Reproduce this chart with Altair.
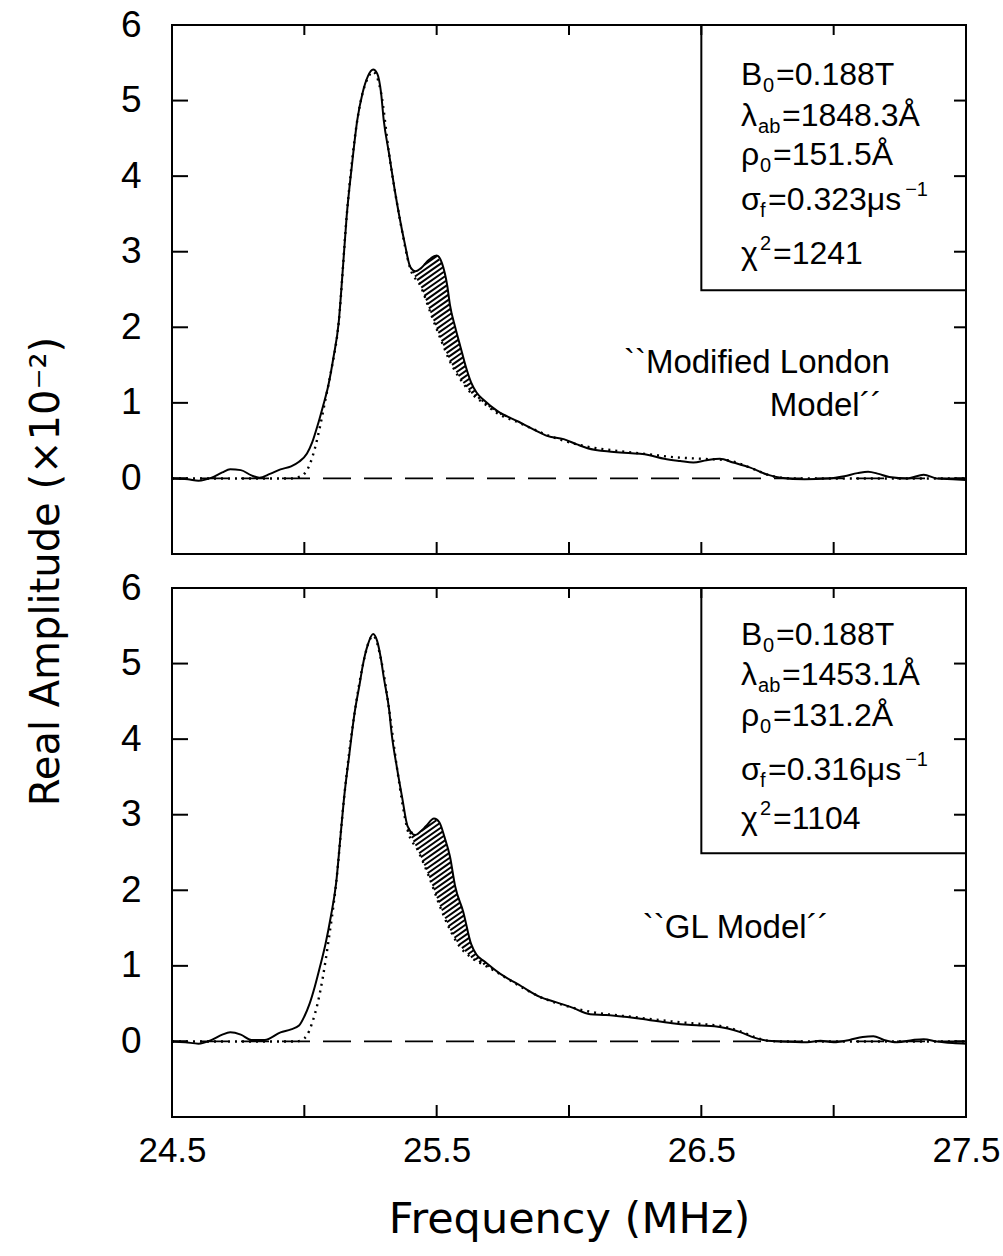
import altair as alt
import numpy as np
import pandas as pd

# ---------------- data ----------------
top_freq = [24.50, 24.56, 24.60, 24.65, 24.69, 24.72, 24.76, 24.80, 24.83, 24.87,
            24.91, 24.95, 24.98, 25.01, 25.03, 25.05, 25.07, 25.09, 25.11, 25.13,
            25.145, 25.16, 25.18, 25.20, 25.22, 25.24, 25.26, 25.275, 25.29, 25.30,
            25.32, 25.34, 25.36, 25.38, 25.40, 25.42, 25.44, 25.47, 25.50, 25.52,
            25.54, 25.55, 25.57, 25.59, 25.61, 25.63, 25.65, 25.68, 25.73, 25.81,
            25.86, 25.92, 25.98, 26.03, 26.07, 26.17, 26.30, 26.36, 26.42, 26.47,
            26.52, 26.57, 26.62, 26.68, 26.75, 26.80, 26.89, 26.98, 27.04, 27.09,
            27.13, 27.17, 27.21, 27.28, 27.34, 27.39, 27.45, 27.50]
top_amp = [0.00, -0.01, -0.03, 0.01, 0.08, 0.12, 0.11, 0.04, 0.01, 0.06,
           0.12, 0.16, 0.22, 0.33, 0.48, 0.70, 0.95, 1.22, 1.60, 2.07,
           2.75, 3.47, 4.15, 4.74, 5.10, 5.32, 5.41, 5.36, 5.10, 4.74,
           4.30, 3.85, 3.45, 3.10, 2.80, 2.74, 2.78, 2.89, 2.95, 2.85,
           2.55, 2.30, 2.00, 1.74, 1.48, 1.27, 1.14, 1.03, 0.89, 0.75,
           0.66, 0.56, 0.52, 0.45, 0.40, 0.35, 0.31, 0.26, 0.23, 0.21,
           0.24, 0.26, 0.21, 0.15, 0.05, 0.01, -0.01, 0.00, 0.03, 0.07,
           0.09, 0.06, 0.02, 0.00, 0.05, 0.00, -0.01, -0.02]

top_model_freq = [24.50, 24.95, 24.98, 25.00, 25.02, 25.04, 25.06, 25.08, 25.10, 25.13,
                  25.16, 25.20, 25.24, 25.26, 25.29, 25.32, 25.36, 25.40, 25.44, 25.48,
                  25.52, 25.55, 25.59, 25.63, 25.68, 25.73, 25.81, 25.86, 25.92, 25.98,
                  26.07, 26.17, 26.30, 26.40, 26.50, 26.60, 26.65, 26.70, 26.75, 26.80,
                  26.85, 27.50]
top_model_amp = [0.00, 0.00, 0.02, 0.06, 0.18, 0.40, 0.70, 1.05, 1.40, 2.07,
                 3.47, 4.74, 5.30, 5.38, 5.10, 4.30, 3.45, 2.78, 2.54, 2.16,
                 1.80, 1.55, 1.31, 1.13, 0.99, 0.86, 0.74, 0.66, 0.57, 0.50,
                 0.42, 0.37, 0.32, 0.28, 0.26, 0.24, 0.19, 0.12, 0.05, 0.01,
                 0.00, 0.00]

bot_freq = [24.50, 24.55, 24.60, 24.65, 24.69, 24.72, 24.76, 24.80, 24.85, 24.91,
            24.95, 24.98, 25.00, 25.02, 25.04, 25.06, 25.08, 25.10, 25.12, 25.135,
            25.15, 25.17, 25.19, 25.21, 25.22, 25.24, 25.26, 25.275, 25.29, 25.30,
            25.32, 25.33, 25.35, 25.37, 25.39, 25.42, 25.44, 25.46, 25.49, 25.51,
            25.53, 25.55, 25.57, 25.60, 25.63, 25.65, 25.68, 25.73, 25.82, 25.89,
            25.95, 26.01, 26.08, 26.14, 26.27, 26.39, 26.45, 26.50, 26.55, 26.60,
            26.65, 26.70, 26.75, 26.80, 26.90, 26.95, 27.00, 27.06, 27.11, 27.15,
            27.19, 27.24, 27.30, 27.34, 27.39, 27.45, 27.50]
bot_amp = [0.00, -0.01, -0.03, 0.02, 0.09, 0.12, 0.09, 0.02, 0.02, 0.12,
           0.16, 0.21, 0.33, 0.50, 0.73, 1.00, 1.29, 1.65, 2.09, 2.65,
           3.22, 3.80, 4.35, 4.75, 4.96, 5.25, 5.39, 5.30, 5.05, 4.82,
           4.40, 4.07, 3.62, 3.22, 2.85, 2.73, 2.78, 2.85, 2.95, 2.90,
           2.70, 2.45, 2.05, 1.72, 1.29, 1.15, 1.06, 0.92, 0.73, 0.59,
           0.52, 0.45, 0.36, 0.35, 0.30, 0.24, 0.22, 0.21, 0.20, 0.17,
           0.12, 0.05, 0.01, 0.00, -0.01, 0.01, -0.01, 0.02, 0.06, 0.07,
           0.02, -0.01, 0.02, 0.03, 0.00, -0.02, -0.03]

bot_model_freq = [24.50, 24.97, 24.99, 25.01, 25.03, 25.05, 25.07, 25.09, 25.12, 25.15,
                  25.19, 25.22, 25.24, 25.26, 25.29, 25.32, 25.35, 25.39, 25.43, 25.47,
                  25.51, 25.55, 25.58, 25.63, 25.68, 25.73, 25.82, 25.89, 26.00, 26.10,
                  26.20, 26.30, 26.40, 26.50, 26.58, 26.65, 26.70, 26.75, 26.80, 27.50]
bot_model_amp = [0.00, 0.00, 0.02, 0.08, 0.25, 0.50, 0.85, 1.30, 2.09, 3.22,
                 4.35, 4.96, 5.25, 5.37, 5.05, 4.40, 3.62, 2.80, 2.52, 2.19,
                 1.81, 1.48, 1.29, 1.11, 1.01, 0.91, 0.72, 0.59, 0.46, 0.38,
                 0.34, 0.30, 0.26, 0.23, 0.20, 0.13, 0.06, 0.01, 0.00, 0.00]

x_label_values = [24.5, 25.5, 26.5, 27.5]
x_tick_values = [25.0, 25.5, 26.0, 26.5, 27.0]
y_label_values = [0, 1, 2, 3, 4, 5, 6]
y_tick_values = [0, 1, 2, 3, 4, 5]

top_params = [["B", "0", "=0.188T", ""],
              ["λ", "ab", "=1848.3Å", ""],
              ["ρ", "0", "=151.5Å", ""],
              ["σ", "f", "=0.323μs", "−1"],
              ["χ", "2", "=1241", ""]]
bot_params = [["B", "0", "=0.188T", ""],
              ["λ", "ab", "=1453.1Å", ""],
              ["ρ", "0", "=131.2Å", ""],
              ["σ", "f", "=0.316μs", "−1"],
              ["χ", "2", "=1104", ""]]

top_label = ["``Modified London", "Model´´"]
bot_label = ["``GL Model´´"]

# ---------------- layout / style ----------------
W, H = 794, 529
XDOM, YDOM = [24.5, 27.5], [-1, 6]
PX_X = W / (XDOM[1] - XDOM[0])
PX_Y = H / (YDOM[1] - YDOM[0])
FONT = "Liberation Sans"
MAIN_FS, SUB_FS = 32, 20
SUB_W = {"a": 11, "b": 11, "0": 11, "2": 11, "f": 6}

xs = alt.Scale(domain=XDOM, nice=False, zero=False)
ys = alt.Scale(domain=YDOM, nice=False, zero=False)


def hatch(fd, ad, fm, am, x0, x1, step_px=5.2, angle=35.0):
    grid = np.linspace(x0, x1, 4000)
    up = np.interp(grid, fd, ad) * PX_Y
    lo = np.interp(grid, fm, am) * PX_Y
    px = (grid - XDOM[0]) * PX_X
    t = np.tan(np.radians(angle))
    cmin = (lo - t * px).min()
    cmax = (up - t * px).max()
    rows = []
    for c in np.arange(cmin, cmax, step_px):
        line = t * px + c
        inside = (line >= lo) & (line <= up) & (up - lo > 1.5)
        idx = np.where(inside)[0]
        if len(idx) == 0:
            continue
        cut = np.where(np.diff(idx) > 1)[0]
        starts = np.r_[idx[0], idx[cut + 1]]
        ends = np.r_[idx[cut], idx[-1]]
        for s, e in zip(starts, ends):
            if e - s < 2:
                continue
            rows.append({"f": grid[s], "a": line[s] / PX_Y,
                         "f2": grid[e], "a2": line[e] / PX_Y})
    return pd.DataFrame(rows)


def legend_df(params, x0, baselines):
    rows = []
    for (sym, sub, rest, sup), yb in zip(params, baselines):
        is_sup = sym == "χ"
        w_sym = {"B": 21, "λ": 16, "ρ": 18, "σ": 18, "χ": 18}[sym]
        sub_w = sum(SUB_W[ch] for ch in sub)
        rows.append({"t": sym, "f": x0, "a": yb, "fs": MAIN_FS})
        dy = 14 if is_sup else -7
        rows.append({"t": sub, "f": x0 + (w_sym + 1) / PX_X, "a": yb + dy / PX_Y,
                     "fs": SUB_FS})
        rest_x = w_sym + sub_w + 3
        rows.append({"t": rest, "f": x0 + rest_x / PX_X, "a": yb, "fs": MAIN_FS})
        if sup:
            rest_w = 0.52 * MAIN_FS * len(rest)
            rows.append({"t": sup, "f": x0 + (rest_x + rest_w + 4) / PX_X,
                         "a": yb + 14 / PX_Y, "fs": SUB_FS})
    return pd.DataFrame(rows)


def panel(freq, amp, mfreq, mamp, params, baselines, labels, show_x, show_ytitle):
    X = alt.X("f:Q", scale=xs,
              axis=alt.Axis(values=x_label_values, labels=show_x, ticks=False,
                            domain=False, grid=False, format=".1f",
                            labelFont=FONT, labelFontSize=35, labelPadding=16,
                            labelFlush=False, labelOverlap=False,
                            title="Frequency  (MHz)" if show_x else None,
                            titleFont="DejaVu Sans", titleFontSize=43,
                            titleFontWeight="normal", titlePadding=30))
    yaxis_kw = dict(values=y_label_values, ticks=False, domain=False, grid=False,
                    format="d", labelFont=FONT, labelFontSize=37, labelPadding=31,
                    labelFlush=False, labelOverlap=False)
    if show_ytitle:
        yaxis_kw.update(title="Real  Amplitude  (×10⁻²)", titleFont="DejaVu Sans",
                        titleFontSize=40, titleFontWeight="normal",
                        titleAngle=270, titleX=-114, titleY=H + 17,
                        titleBaseline="alphabetic", titleAlign="center")
    else:
        yaxis_kw.update(title=None)
    Y = alt.Y("a:Q", scale=ys, axis=alt.Axis(**yaxis_kw))

    data = pd.DataFrame({"f": freq, "a": amp})
    model = pd.DataFrame({"f": mfreq, "a": mamp})
    hd = hatch(freq, amp, mfreq, mamp, 25.38, 25.86)

    hatch_layer = alt.Chart(hd).mark_rule(color="black", strokeWidth=2.0).encode(
        x=X, y=Y, x2="f2:Q", y2="a2:Q")
    zero = alt.Chart(pd.DataFrame({"a": [0.0]})).mark_rule(
        color="black", strokeWidth=1.8, strokeDash=[28, 13]).encode(y=Y)
    model_line = alt.Chart(model).mark_line(
        color="black", strokeWidth=2.4, strokeDash=[2, 5], interpolate="monotone"
    ).encode(x=X, y=Y)
    data_line = alt.Chart(data).mark_line(
        color="black", strokeWidth=2.0, interpolate="monotone").encode(x=X, y=Y)

    box = alt.Chart(pd.DataFrame({"f": [26.5], "f2": [27.5], "a": [2.49], "a2": [6.0]})
                    ).mark_rect(fill="white", stroke="black", strokeWidth=2).encode(
        x=X, x2="f2:Q", y=Y, y2="a2:Q")

    xt = pd.DataFrame({"f": x_tick_values})
    yt = pd.DataFrame({"a": y_tick_values})
    tick_top = alt.Chart(xt).mark_rule(color="black", strokeWidth=2).encode(
        x=X, y=alt.value(0), y2=alt.value(10))
    tick_bot = alt.Chart(xt).mark_rule(color="black", strokeWidth=2).encode(
        x=X, y=alt.value(H), y2=alt.value(H - 12))
    tick_left = alt.Chart(yt).mark_rule(color="black", strokeWidth=2).encode(
        y=Y, x=alt.value(0), x2=alt.value(16))
    tick_right = alt.Chart(yt).mark_rule(color="black", strokeWidth=2).encode(
        y=Y, x=alt.value(W), x2=alt.value(W - 12))

    leg = legend_df(params, 26.65, baselines)
    leg_text = alt.Chart(leg).mark_text(
        align="left", baseline="alphabetic", font=FONT, color="black").encode(
        x=X, y=Y, text="t:N", size=alt.Size("fs:Q", scale=None))

    lab = pd.DataFrame(labels)
    lab_text = alt.Chart(lab).mark_text(
        align="center", baseline="middle", font=FONT, fontSize=33,
        color="black").encode(x=X, y=Y, text="t:N")

    return alt.layer(box, zero, hatch_layer, model_line, data_line,
                     tick_top, tick_bot, tick_left, tick_right,
                     leg_text, lab_text).properties(width=W, height=H)


top = panel(top_freq, top_amp, top_model_freq, top_model_amp, top_params,
            [5.21, 4.67, 4.15, 3.55, 2.84],
            [{"t": top_label[0], "f": 26.71, "a": 1.53},
             {"t": top_label[1], "f": 26.97, "a": 0.96}],
            show_x=False, show_ytitle=True)
bottom = panel(bot_freq, bot_amp, bot_model_freq, bot_model_amp, bot_params,
               [5.25, 4.71, 4.17, 3.46, 2.81],
               [{"t": bot_label[0], "f": 26.63, "a": 1.50}],
               show_x=True, show_ytitle=False)

chart = alt.vconcat(top, bottom, spacing=34, bounds="flush").properties(
    padding={"left": 25, "top": 5, "right": 0, "bottom": 0},
    background="white",
).configure_view(stroke="black", strokeWidth=2)

chart.save("out.html", embed_options={"renderer": "svg", "actions": False})
